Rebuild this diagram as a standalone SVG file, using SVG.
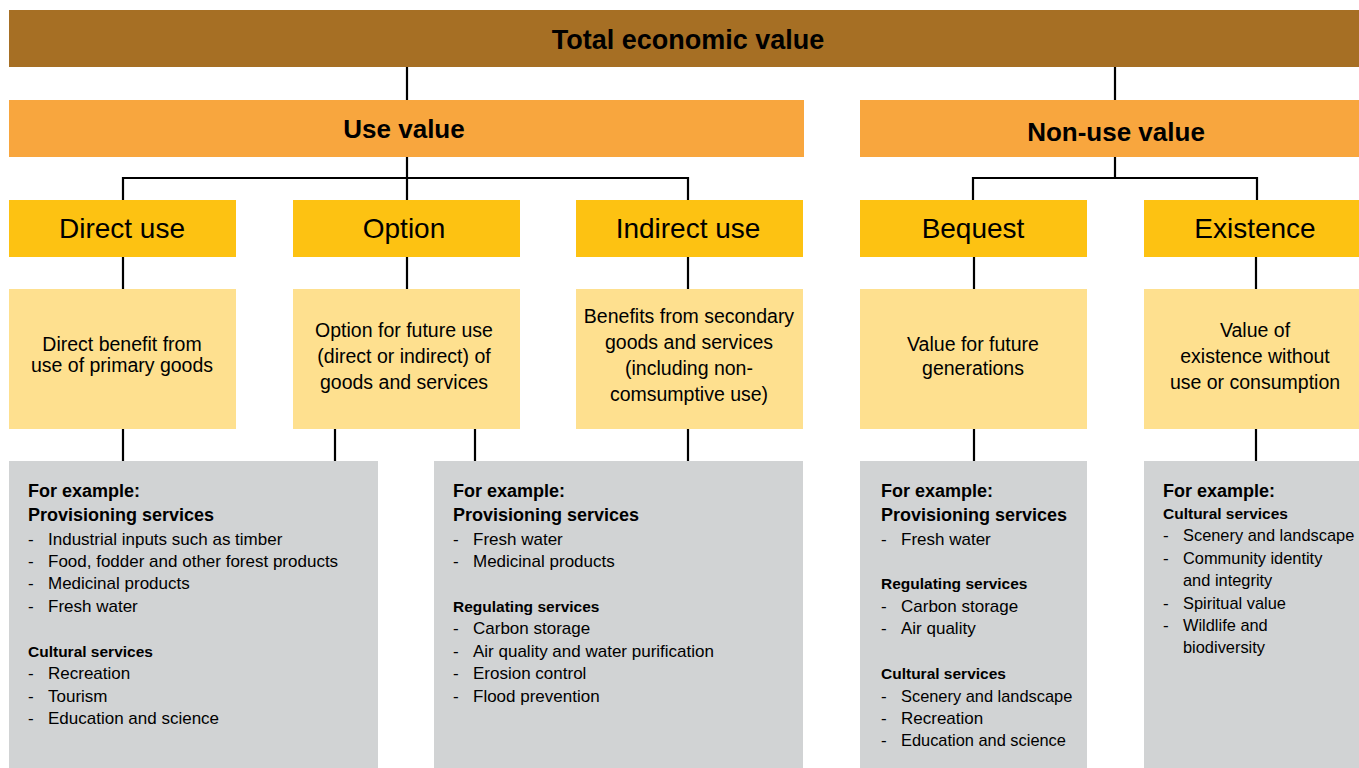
<svg xmlns="http://www.w3.org/2000/svg" width="1359" height="768" viewBox="0 0 1359 768">
<style>
text{font-family:"Liberation Sans",Arial,sans-serif;fill:#000}
.b1{fill:#A66F24}.b2{fill:#F8A63E}.b3{fill:#FDC212}.dsc{fill:#FEE08F}.gr{fill:#D1D3D4}
.tt{font-size:27px;font-weight:bold;text-anchor:middle}
.t2{font-size:26px;font-weight:bold;text-anchor:middle}
.t3{font-size:28px;text-anchor:middle}
.d{font-size:19.5px;text-anchor:middle}
.h{font-size:18px;font-weight:bold}
.s{font-size:15.5px;font-weight:bold}
.i{font-size:17px}
.i2{font-size:16.4px}
.con{stroke:#000;stroke-width:2.2;fill:none;stroke-linejoin:miter}
</style>
<rect width="1359" height="768" fill="#fff"/>
<g id="connectors" class="con">
<path d="M407 67V100M1115 67V100"/>
<path d="M407 157V200M123 200V178H688V200"/>
<path d="M1115 157V178M973 200V178H1257V200"/>
<path d="M123 257V289M407 257V289M688 257V289M974 257V289M1256 257V289"/>
<path d="M123 429V461M335 429V461M475 429V461M688 429V461M974 429V461M1256 429V461"/>
</g>
<g id="total"><rect class="b1" x="9" y="10" width="1350" height="57"/><text class="tt" x="688" y="49">Total economic value</text></g>
<g id="use-value"><rect class="b2" x="9" y="100" width="795" height="57"/><text class="t2" x="404" y="138">Use value</text></g>
<g id="non-use-value"><rect class="b2" x="860" y="100" width="499" height="57"/><text class="t2" x="1116" y="141">Non-use value</text></g>
<g id="direct-use"><rect class="b3" x="9" y="200" width="227" height="57"/><text class="t3" x="122" y="238">Direct use</text></g>
<g id="option"><rect class="b3" x="293" y="200" width="227" height="57"/><text class="t3" x="404" y="238">Option</text></g>
<g id="indirect-use"><rect class="b3" x="576" y="200" width="227" height="57"/><text class="t3" x="688" y="238">Indirect use</text></g>
<g id="bequest"><rect class="b3" x="860" y="200" width="227" height="57"/><text class="t3" x="973" y="238">Bequest</text></g>
<g id="existence"><rect class="b3" x="1144" y="200" width="215" height="57"/><text class="t3" x="1255" y="238">Existence</text></g>
<g id="direct-desc"><rect class="dsc" x="9" y="289" width="227" height="140"/><text class="d" x="122" y="351">Direct benefit from</text><text class="d" x="122" y="372">use of primary goods</text></g>
<g id="option-desc"><rect class="dsc" x="293" y="289" width="227" height="140"/><text class="d" x="404" y="337">Option for future use</text><text class="d" x="404" y="363">(direct or indirect) of</text><text class="d" x="404" y="389">goods and services</text></g>
<g id="indirect-desc"><rect class="dsc" x="576" y="289" width="227" height="140"/><text class="d" x="689" y="323">Benefits from secondary</text><text class="d" x="689" y="349">goods and services</text><text class="d" x="689" y="375">(including non-</text><text class="d" x="689" y="401">comsumptive use)</text></g>
<g id="bequest-desc"><rect class="dsc" x="860" y="289" width="227" height="140"/><text class="d" x="973" y="351">Value for future</text><text class="d" x="973" y="375">generations</text></g>
<g id="existence-desc"><rect class="dsc" x="1144" y="289" width="215" height="140"/><text class="d" x="1255" y="337">Value of</text><text class="d" x="1255" y="363">existence without</text><text class="d" x="1255" y="389">use or consumption</text></g>
<g id="examples-use"><rect class="gr" x="9" y="461" width="369" height="307"/>
<text class="h" x="28" y="497">For example:</text><text class="h" x="28" y="521">Provisioning services</text>
<text class="i" x="28" y="545">-</text><text class="i" x="48" y="545">Industrial inputs such as timber</text>
<text class="i" x="28" y="567">-</text><text class="i" x="48" y="567">Food, fodder and other forest products</text>
<text class="i" x="28" y="589">-</text><text class="i" x="48" y="589">Medicinal products</text>
<text class="i" x="28" y="612">-</text><text class="i" x="48" y="612">Fresh water</text>
<text class="s" x="28" y="657">Cultural services</text>
<text class="i" x="28" y="679">-</text><text class="i" x="48" y="679">Recreation</text>
<text class="i" x="28" y="702">-</text><text class="i" x="48" y="702">Tourism</text>
<text class="i" x="28" y="724">-</text><text class="i" x="48" y="724">Education and science</text>
</g>
<g id="examples-indirect"><rect class="gr" x="434" y="461" width="369" height="307"/>
<text class="h" x="453" y="497">For example:</text><text class="h" x="453" y="521">Provisioning services</text>
<text class="i" x="453" y="545">-</text><text class="i" x="473" y="545">Fresh water</text>
<text class="i" x="453" y="567">-</text><text class="i" x="473" y="567">Medicinal products</text>
<text class="s" x="453" y="612">Regulating services</text>
<text class="i" x="453" y="634">-</text><text class="i" x="473" y="634">Carbon storage</text>
<text class="i" x="453" y="657">-</text><text class="i" x="473" y="657">Air quality and water purification</text>
<text class="i" x="453" y="679">-</text><text class="i" x="473" y="679">Erosion control</text>
<text class="i" x="453" y="702">-</text><text class="i" x="473" y="702">Flood prevention</text>
</g>
<g id="examples-bequest"><rect class="gr" x="860" y="461" width="227" height="307"/>
<text class="h" x="881" y="497">For example:</text><text class="h" x="881" y="521">Provisioning services</text>
<text class="i" x="881" y="545">-</text><text class="i" x="901" y="545">Fresh water</text>
<text class="s" x="881" y="589">Regulating services</text>
<text class="i" x="881" y="612">-</text><text class="i" x="901" y="612">Carbon storage</text>
<text class="i" x="881" y="634">-</text><text class="i" x="901" y="634">Air quality</text>
<text class="s" x="881" y="679">Cultural services</text>
<text class="i" x="881" y="702">-</text><text class="i2" x="901" y="702">Scenery and landscape</text>
<text class="i" x="881" y="724">-</text><text class="i" x="901" y="724">Recreation</text>
<text class="i" x="881" y="746">-</text><text class="i2" x="901" y="746">Education and science</text>
</g>
<g id="examples-existence"><rect class="gr" x="1144" y="461" width="215" height="307"/>
<text class="h" x="1163" y="497">For example:</text>
<text class="s" x="1163" y="519">Cultural services</text>
<text class="i" x="1163" y="541">-</text><text class="i2" x="1183" y="541">Scenery and landscape</text>
<text class="i" x="1163" y="564">-</text><text class="i2" x="1183" y="564">Community identity</text>
<text class="i2" x="1183" y="586">and integrity</text>
<text class="i" x="1163" y="609">-</text><text class="i2" x="1183" y="609">Spiritual value</text>
<text class="i" x="1163" y="631">-</text><text class="i2" x="1183" y="631">Wildlife and</text>
<text class="i2" x="1183" y="653">biodiversity</text>
</g>
</svg>
